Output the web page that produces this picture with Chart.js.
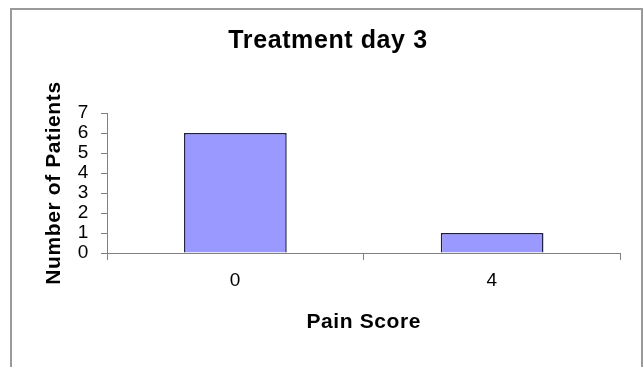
<!DOCTYPE html>
<html>
<head>
<meta charset="utf-8">
<script src="https://cdn.jsdelivr.net/npm/chart.js@4/dist/chart.umd.min.js"></script>
<style>
  html, body { margin: 0; padding: 0; background: #ffffff; }
  #wrap { position: relative; width: 644px; height: 367px; }
</style>
</head>
<body>
<div id="wrap"><canvas id="chart"></canvas></div>
<script>
// Pain scores recorded on treatment day 3 and how many patients gave each
const painScores = ['0', '4'];
const patientCounts = [6, 1];
const yMin = 0;
const yMax = 7;
const yStep = 1;

const FONT = "'Liberation Sans', Arial, sans-serif";
const AXIS_GRAY = '#808080';

// Grey frame around the whole chart, plus slightly wider lettering
const framePlugin = {
  id: 'frame',
  afterLayout(chart) {
    // centre the heading over the framed area rather than the plot
    if (chart.titleBlock) {
      chart.titleBlock.left = 12;
      chart.titleBlock.right = 644;
    }
  },
  beforeDraw(chart) {
    const ctx = chart.ctx;
    ctx.letterSpacing = '0.6px';
    ctx.save();
    ctx.strokeStyle = '#9a9a9a';
    ctx.lineWidth = 2;
    ctx.strokeRect(11, 9, 631, 400);
    ctx.restore();
  }
};

new Chart(document.getElementById('chart'), {
  type: 'bar',
  data: {
    labels: painScores,
    datasets: [{
      data: patientCounts,
      backgroundColor: '#9999ff',
      borderColor: '#1f1f3f',
      borderWidth: 1.5,
      barPercentage: 0.4,
      categoryPercentage: 1.0
    }]
  },
  options: {
    responsive: true,
    maintainAspectRatio: false,
    animation: false,
    layout: { padding: { left: 0, right: 23.5, top: 0, bottom: 0 } },
    plugins: {
      legend: { display: false },
      tooltip: { enabled: false },
      title: {
        display: true,
        text: 'Treatment day 3',
        color: '#000000',
        font: { family: FONT, size: 25, weight: 'bold', lineHeight: 1.2 },
        padding: { top: 26, bottom: 57 }
      }
    },
    scales: {
      x: {
        offset: true,
        grid: {
          offset: true,
          drawOnChartArea: false,
          drawTicks: true,
          tickLength: 7,
          color: AXIS_GRAY,
          lineWidth: 1
        },
        border: { display: true, color: AXIS_GRAY, width: 1 },
        ticks: {
          color: '#000000',
          padding: 9,
          font: { family: FONT, size: 19, lineHeight: 1.2 }
        },
        title: {
          display: true,
          text: 'Pain Score',
          color: '#000000',
          font: { family: FONT, size: 21, weight: 'bold', lineHeight: 1.2 },
          padding: { top: 0, bottom: 32.4 }
        },
        afterFit(scale) { scale.height = 114; }
      },
      y: {
        min: yMin,
        max: yMax,
        grid: {
          drawOnChartArea: false,
          drawTicks: true,
          tickLength: 6,
          color: AXIS_GRAY,
          lineWidth: 1
        },
        border: { display: true, color: AXIS_GRAY, width: 1 },
        ticks: {
          stepSize: yStep,
          autoSkip: false,
          color: '#000000',
          padding: 12,
          font: { family: FONT, size: 19, lineHeight: 1.0 }
        },
        title: {
          display: true,
          text: 'Number of Patients',
          color: '#000000',
          font: { family: FONT, size: 21, weight: 'bold', lineHeight: 1.2 },
          padding: { top: 42, bottom: 0 }
        },
        afterFit(scale) { scale.width = 107; }
      }
    }
  },
  plugins: [framePlugin]
});
</script>
</body>
</html>
